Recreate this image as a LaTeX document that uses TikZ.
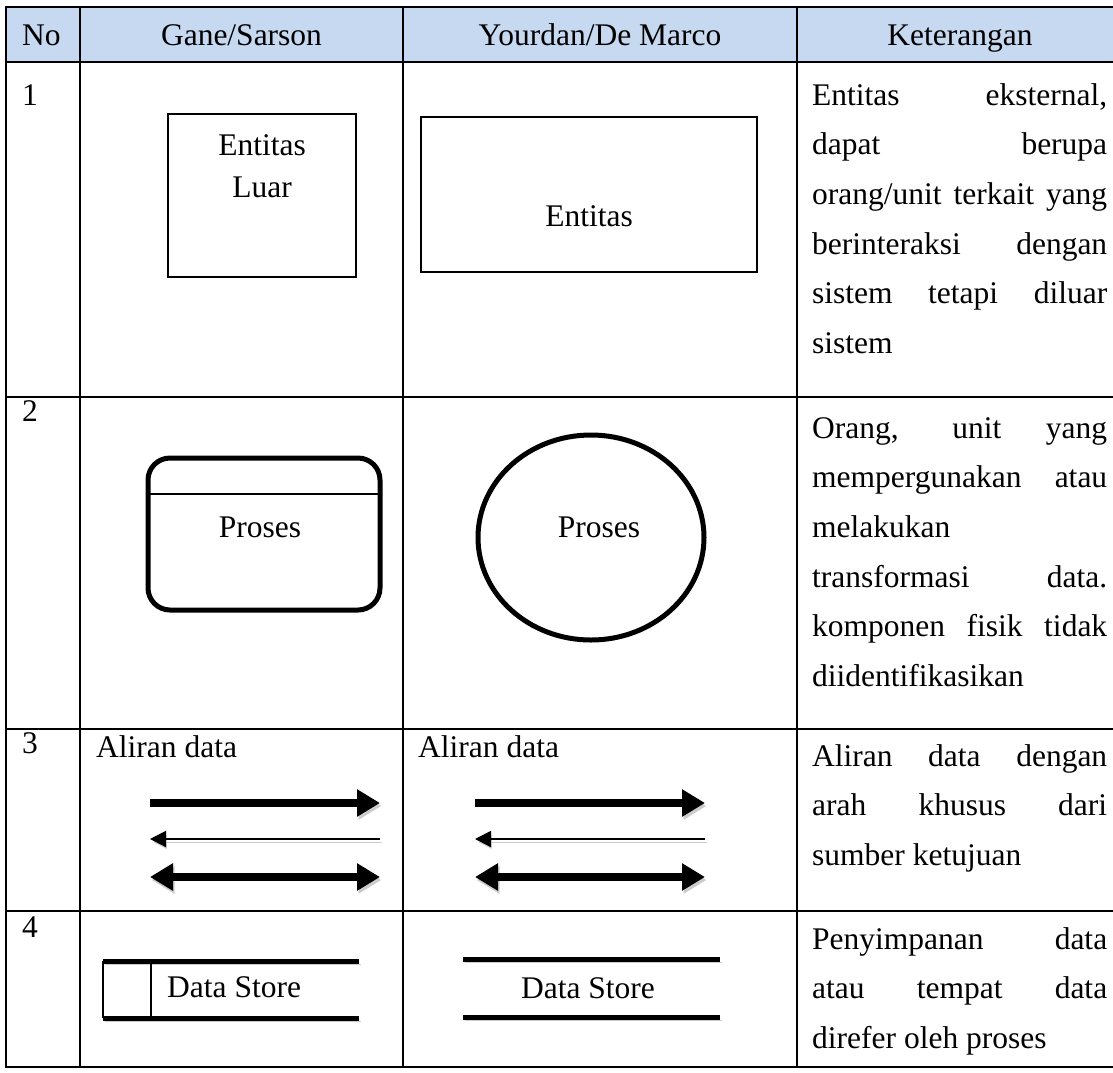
\documentclass[tikz,border=0pt]{standalone}
\usepackage{fontspec}
\setmainfont{Liberation Serif}
\usetikzlibrary{arrows.meta}
\definecolor{headblue}{RGB}{198,217,241}
\tolerance=10000 \hbadness=10000

\begin{document}
\begin{tikzpicture}[x=1pt, y=-1pt, font=\fontsize{31.5}{49.7}\selectfont,
	rule/.style={line width=2pt},
	txt/.style={inner sep=0pt, anchor=base},
	txtl/.style={inner sep=0pt, anchor=base west},
	ket/.style={inner sep=0pt, anchor=base west, text width=295pt, align=justify},
	drop/.style={preaction={draw=black!20, transform canvas={shift={(1.5pt,-3pt)}}}},
	fatflow/.style={drop, line width=8pt},
	thinflow/.style={drop, line width=2pt},
	tipbig/.tip={Triangle[length=23pt, width=26pt]},
	tipsmall/.tip={Triangle[length=16pt, width=16pt]}]
	\useasboundingbox (0,0) rectangle (1113,1072);
	% header and grid
	\fill[headblue] (6,7) rectangle (1113,62);
	\foreach \y in {7,62,397,729,911,1067} \draw[rule] (5,\y) -- (1113,\y);
	\foreach \x in {6,80,403,797} \draw[rule] (\x,6) -- (\x,1068);
	\node[txtl] (hno) at (22,45) {No};
	\node[txt] (hgane) at (241.5,45) {Gane/Sarson};
	\node[txt] (hyour) at (600,45) {Yourdan/De Marco};
	\node[txt] (hket) at (960,45) {Keterangan};
	\node[txtl] (no1) at (22,105) {1};
	\node[txtl] (no2) at (22,421) {2};
	\node[txtl] (no3) at (22,753) {3};
	\node[txtl] (no4) at (22,937) {4};
	% row 1: entitas
	\draw[line width=2pt] (168,114) rectangle (356,277);
	\node[txt] (gent) at (262,155) {Entitas};
	\node[txt] (gluar) at (262,197) {Luar};
	\draw[line width=2pt] (421,117) rectangle (757,272);
	\node[txt] (yent) at (589,226) {Entitas};
	% row 2: proses
	\draw[line width=5pt, rounded corners=22pt] (148,458) rectangle (380,610);
	\draw[line width=1.5pt] (150,494) -- (378,494);
	\node[txt] (gproc) at (260,537) {Proses};
	\draw[line width=5pt] (591,537.5) ellipse (113 and 102.5);
	\node[txt] (yproc) at (599,537) {Proses};
	% row 3: aliran data
	\node[txtl] (gflow) at (96,757) {Aliran data};
	\node[txtl] (yflow) at (418,757) {Aliran data};
	\foreach \dx in {0,325} {
		\draw[fatflow, -tipbig] (150+\dx,803) -- (380+\dx,803);
		\draw[thinflow, -tipsmall] (380+\dx,839) -- (150+\dx,839);
		\draw[fatflow, tipbig-tipbig] (150+\dx,877) -- (380+\dx,877);
	}
	% row 4: data store
	\draw[drop, line width=5pt] (103,961) -- (359,961);
	\draw[drop, line width=5pt] (103,1018) -- (359,1018);
	\draw[line width=1.5pt] (103,961) -- (103,1018) (151,961) -- (151,1018);
	\node[txtl] (gstore) at (167,997) {Data Store};
	\draw[drop, line width=5pt] (463,959) -- (720,959);
	\draw[drop, line width=5pt] (463,1017) -- (720,1017);
	\node[txt] (ystore) at (588,998) {Data Store};
	% keterangan
	\node[ket] (ket1) at (812,105) {Entitas eksternal,\linebreak dapat berupa\linebreak orang/unit terkait yang\linebreak berinteraksi dengan\linebreak sistem tetapi diluar\linebreak sistem};
	\node[ket] (ket2) at (812,438) {Orang, unit yang\linebreak mempergunakan atau\linebreak melakukan\linebreak transformasi data.\linebreak komponen fisik tidak\linebreak diidentifikasikan};
	\node[ket] (ket3) at (812,766) {Aliran data dengan\linebreak arah khusus dari\linebreak sumber ketujuan};
	\node[ket] (ket4) at (812,949) {Penyimpanan data\linebreak atau tempat data\linebreak direfer oleh proses};
\end{tikzpicture}
\end{document}
